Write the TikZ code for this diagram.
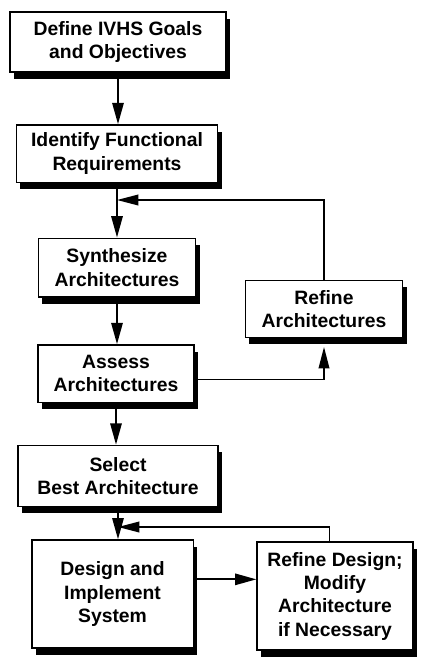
\documentclass[tikz,border=0pt]{standalone}
\usepackage{fontspec}
\setmainfont{Liberation Sans}
\usetikzlibrary{arrows.meta, shadows}

\tikzset{
  stage/.style={draw, line width=1pt, fill=white, align=center, inner sep=0pt,
    font=\bfseries\fontsize{14.5}{17.5}\selectfont,
    drop shadow={shadow xshift=3pt, shadow yshift=-5pt, fill=black, opacity=1}},
  flow/.style={line width=1.5pt, -{Triangle[length=16pt, width=8.5pt]}},
  back/.style={line width=1.1pt, -{Triangle[length=16pt, width=8pt]}},
}

\begin{document}
\begin{tikzpicture}[x=0.75pt, y=-0.75pt]
    \useasboundingbox (0,0) rectangle (424,662);

    % Left column
    \node[stage, minimum width=162pt, minimum height=45pt] (goals) at (118, 42)
      {Define IVHS Goals\\and Objectives};
    \node[stage, minimum width=151pt, minimum height=43pt] (reqs) at (117, 153.5)
      {Identify Functional\\Requirements};
    \node[stage, minimum width=118pt, minimum height=44pt] (synth) at (117, 267.5)
      {Synthesize\\Architectures};
    \node[stage, minimum width=117pt, minimum height=43pt] (assess) at (116, 373.5)
      {Assess\\Architectures};
    \node[stage, minimum width=150pt, minimum height=46pt] (select) at (118, 476)
      {Select\\Best Architecture};
    \node[stage, minimum width=121pt, minimum height=81pt] (design) at (112.5, 594)
      {Design and\\Implement\\System};

    % Right column
    \node[stage, minimum width=118pt, minimum height=43pt] (refarch) at (324, 309)
      {Refine\\Architectures};
    \node[stage, minimum width=117pt, minimum height=81pt] (refdes) at (335, 596)
      {Refine Design;\\Modify\\Architecture\\if Necessary};

    % Junctions of the feedback loops
    \coordinate (loopa) at (117, 200);
    \coordinate (loopb) at (118, 527);

    % Main flow
    \draw[flow] (goals.south) -- (goals.south |- reqs.north);
    \draw[flow] (reqs.south) -- (synth.north);
    \draw[flow] (synth.south) -- (synth.south |- assess.north);
    \draw[flow] (assess.south) -- (assess.south |- select.north);
    \draw[flow] (select.south) -- (select.south |- design.north);
    \draw[flow] ([yshift=11pt]design.east) -- ([yshift=11pt]design.east -| refdes.west);

    % Feedback
    \draw[back] ([yshift=-4.5pt]assess.east) -| ([yshift=-6.5pt]refarch.south);
    \draw[back] (refarch.north) |- (loopa);
    \draw[back] ([xshift=-4pt]refdes.north) |- (loopb);
\end{tikzpicture}
\end{document}
